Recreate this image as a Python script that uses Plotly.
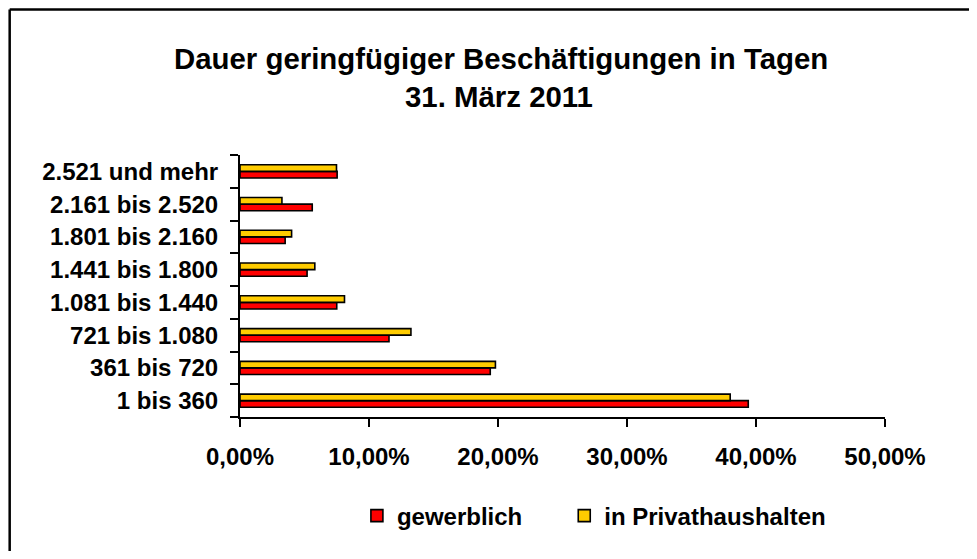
import plotly.graph_objects as go

categories = ["1 bis 360", "361 bis 720", "721 bis 1.080", "1.081 bis 1.440",
              "1.441 bis 1.800", "1.801 bis 2.160", "2.161 bis 2.520", "2.521 und mehr"]
gewerblich = [0.394, 0.194, 0.1155, 0.075, 0.052, 0.035, 0.056, 0.0753]
privathaushalte = [0.380, 0.198, 0.1325, 0.081, 0.058, 0.040, 0.0325, 0.0748]
x_ticks = [0, 0.1, 0.2, 0.3, 0.4, 0.5]

FONT = "Liberation Sans, Arial, sans-serif"

fig = go.Figure()
fig.add_trace(go.Bar(
    y=categories, x=gewerblich, orientation="h", name="gewerblich",
    marker=dict(color="#FF0000", line=dict(color="black", width=1.6)),
    legend="legend",
))
fig.add_trace(go.Bar(
    y=categories, x=privathaushalte, orientation="h", name="in Privathaushalten",
    marker=dict(color="#FFCC00", line=dict(color="black", width=1.6)),
    legend="legend2",
))

# page body has an 8px default margin: work in reference coords, shift by OFF
OFF = 8
W, H = 961, 543
PX0, PX1, PY0, PY1 = 239.5, 885, 155, 417  # plot area in reference pixels
L, R = PX0 - OFF, W - (PX1 - OFF)
T, B = PY0 - OFF, H - (PY1 - OFF)
pw, ph = PX1 - PX0, PY1 - PY0

def px(x):
    return (x - PX0) / pw

def py(y):
    return (PY1 - y) / ph

legend_font = dict(family=FONT, size=24, weight="bold", color="black")

fig.update_layout(
    width=W, height=H,
    margin=dict(l=L, r=R, t=T, b=B, pad=0, autoexpand=False),
    paper_bgcolor="white", plot_bgcolor="white",
    barmode="group", bargap=0.6, bargroupgap=0.0,
    separators=",.",
    font=dict(family=FONT, color="black", size=24, weight="bold"),
    showlegend=True,
    legend=dict(
        orientation="h", x=px(356.5), xanchor="left", y=py(516), yanchor="middle",
        font=legend_font, bgcolor="rgba(0,0,0,0)",
    ),
    legend2=dict(
        orientation="h", x=px(564), xanchor="left", y=py(516), yanchor="middle",
        font=legend_font, bgcolor="rgba(0,0,0,0)",
    ),
    xaxis=dict(
        range=[0, 0.5], tickvals=x_ticks, tickformat=".2%",
        showgrid=False, zeroline=False,
        showline=True, linecolor="black", linewidth=2,
        ticks="outside", ticklen=8, tickwidth=2, tickcolor="black",
        ticklabelstandoff=9,
        tickfont=dict(family=FONT, size=24, weight="bold", color="black"),
        fixedrange=True,
    ),
    yaxis=dict(
        type="category", categoryorder="array", categoryarray=categories,
        showgrid=False, zeroline=False,
        showline=True, linecolor="black", linewidth=2,
        ticks="outside", ticklen=8, tickwidth=2, tickcolor="black",
        tickson="boundaries", ticklabelstandoff=15,
        tickfont=dict(family=FONT, size=24, weight="bold", color="black"),
        fixedrange=True,
    ),
    annotations=[
        dict(text="Dauer geringfügiger Beschäftigungen in Tagen", xref="paper", yref="paper",
             x=px(501), y=py(58), xanchor="center", yanchor="middle", showarrow=False,
             font=dict(family=FONT, size=29.4, weight="bold", color="black")),
        dict(text="31. März 2011", xref="paper", yref="paper",
             x=px(499), y=py(96), xanchor="center", yanchor="middle", showarrow=False,
             font=dict(family=FONT, size=29.4, weight="bold", color="black")),
    ],
    shapes=[
        dict(type="line", xref="paper", yref="paper", x0=px(9), x1=px(1000), y0=py(9.5), y1=py(9.5),
             line=dict(color="black", width=2.5)),
        dict(type="line", xref="paper", yref="paper", x0=px(9), x1=px(9), y0=py(9.5), y1=py(600),
             line=dict(color="black", width=2.5)),
    ],
)

fig.write_html("out.html", config={"displayModeBar": False})
